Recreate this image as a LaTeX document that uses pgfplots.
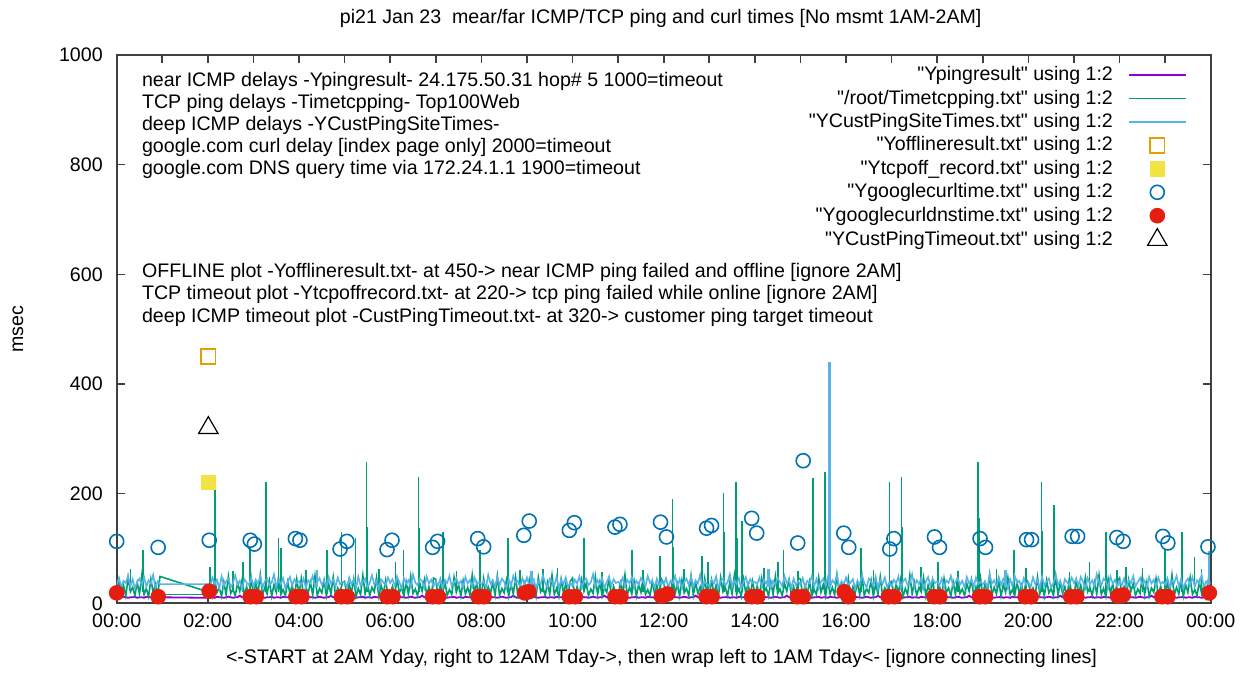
\documentclass[border=0pt]{standalone}
\usepackage{fontspec}
\setmainfont{Liberation Sans}[Ligatures=TeXOff]
\usepackage{pgfplots}
\usepackage{pgfplotstable}
\pgfplotsset{compat=1.18}
\definecolor{cpurple}{HTML}{9400D3}
\definecolor{cgreen}{HTML}{009E73}
\definecolor{clblue}{HTML}{56B4E9}
\definecolor{corange}{HTML}{E69F00}
\definecolor{cyellow}{HTML}{F0E442}
\definecolor{cblue}{HTML}{0072B2}
\definecolor{cred}{HTML}{E51E10}
\pgfplotstableread{
t g b p
0.00 15 34 11
0.05 42 46 10
0.10 18 29 11
0.15 33 41 12
0.20 13 37 11
0.25 47 50 10
0.30 21 31 11
0.35 29 44 11
0.40 14 27 12
0.45 38 39 10
0.50 17 45 11
0.55 51 33 11
0.60 16 48 10
0.65 27 30 12
0.70 12 42 11
0.75 44 36 11
0.80 19 52 10
0.85 35 28 11
0.90 15 40 13
0.95 49 35 11
2.00 21 35 10
2.05 31 30 11
2.10 14 47 11
2.15 45 35 10
2.20 20 43 12
2.25 28 27 11
2.30 13 49 11
2.35 39 32 10
2.40 16 40 11
2.45 49 45 12
2.50 18 29 11
2.55 26 37 10
2.60 14 51 11
2.65 36 34 11
2.70 22 41 14
2.75 43 26 11
2.80 15 44 10
2.85 30 38 11
2.90 13 33 12
2.95 46 47 11
3.00 14 31 11
3.05 37 43 10
3.10 19 36 11
3.15 52 49 12
3.20 15 28 11
3.25 29 40 10
3.30 17 45 11
3.35 41 33 11
3.40 13 38 12
3.45 34 53 10
3.50 20 30 11
3.55 47 42 11
3.60 16 35 10
3.65 25 46 12
3.70 14 27 11
3.75 39 39 11
3.80 18 48 10
3.85 33 32 11
3.90 12 44 13
3.95 44 37 11
4.00 16 40 10
4.05 45 33 11
4.10 13 45 11
4.15 30 28 10
4.20 18 42 12
4.25 38 37 11
4.30 15 50 11
4.35 50 31 10
4.40 14 39 11
4.45 27 46 12
4.50 19 34 11
4.55 42 41 10
4.60 13 29 11
4.65 35 48 11
4.70 17 36 14
4.75 48 43 11
4.80 15 30 10
4.85 28 47 11
4.90 20 35 12
4.95 37 39 11
5.00 40 38 11
5.05 15 30 10
5.10 35 47 11
5.15 19 35 12
5.20 44 43 11
5.25 12 27 10
5.30 27 49 11
5.35 16 32 11
5.40 51 40 12
5.45 17 45 10
5.50 38 29 11
5.55 14 37 11
5.60 29 51 10
5.65 21 34 12
5.70 47 41 11
5.75 13 26 11
5.80 33 44 10
5.85 18 38 11
5.90 42 33 13
5.95 15 47 11
6.00 17 37 10
6.05 31 44 11
6.10 14 32 11
6.15 45 48 10
6.20 20 39 12
6.25 28 27 11
6.30 13 46 11
6.35 39 35 10
6.40 16 42 11
6.45 49 30 12
6.50 18 53 11
6.55 26 38 10
6.60 14 33 11
6.65 36 45 11
6.70 22 40 14
6.75 43 28 11
6.80 15 49 10
6.85 30 36 11
6.90 13 43 12
6.95 46 31 11
7.00 44 40 11
7.05 12 33 10
7.10 33 45 11
7.15 18 28 12
7.20 39 42 11
7.25 14 37 10
7.30 25 50 11
7.35 16 31 11
7.40 47 39 12
7.45 20 46 10
7.50 34 34 11
7.55 13 41 11
7.60 41 29 10
7.65 17 48 12
7.70 29 36 11
7.75 15 43 11
7.80 52 30 10
7.85 19 47 11
7.90 37 35 13
7.95 14 39 11
8.00 16 35 10
8.05 45 40 11
8.10 13 28 11
8.15 30 52 10
8.20 18 36 12
8.25 38 42 11
8.30 15 30 11
8.35 50 48 10
8.40 14 33 11
8.45 27 45 12
8.50 19 39 11
8.55 42 27 10
8.60 13 44 11
8.65 35 31 11
8.70 17 50 14
8.75 48 37 11
8.80 15 41 10
8.85 28 29 11
8.90 20 46 12
8.95 37 34 11
9.00 15 47 11
9.05 42 33 10
9.10 18 38 11
9.15 33 44 12
9.20 13 26 11
9.25 47 41 10
9.30 21 34 11
9.35 29 51 11
9.40 14 37 12
9.45 38 29 10
9.50 17 45 11
9.55 51 40 11
9.60 16 32 10
9.65 27 49 12
9.70 12 27 11
9.75 44 43 11
9.80 19 35 10
9.85 35 47 11
9.90 15 30 13
9.95 40 38 11
10.00 46 31 10
10.05 13 43 11
10.10 30 36 11
10.15 15 49 10
10.20 43 28 12
10.25 22 40 11
10.30 36 45 11
10.35 14 33 10
10.40 26 38 11
10.45 18 53 12
10.50 49 30 11
10.55 16 42 10
10.60 39 35 11
10.65 13 46 11
10.70 28 27 14
10.75 20 39 11
10.80 45 48 10
10.85 14 32 11
10.90 31 44 12
10.95 17 37 11
11.00 14 39 11
11.05 37 35 10
11.10 19 47 11
11.15 52 30 12
11.20 15 43 11
11.25 29 36 10
11.30 17 48 11
11.35 41 29 11
11.40 13 41 12
11.45 34 34 10
11.50 20 46 11
11.55 47 39 11
11.60 16 31 10
11.65 25 50 12
11.70 14 37 11
11.75 39 42 11
11.80 18 28 10
11.85 33 45 11
11.90 12 33 13
11.95 44 40 11
12.00 37 34 10
12.05 20 46 11
12.10 28 29 11
12.15 15 41 10
12.20 48 37 12
12.25 17 50 11
12.30 35 31 11
12.35 13 44 10
12.40 42 27 11
12.45 19 39 12
12.50 27 45 11
12.55 14 33 10
12.60 50 48 11
12.65 15 30 11
12.70 38 42 14
12.75 18 36 11
12.80 30 52 10
12.85 13 28 11
12.90 45 40 12
12.95 16 35 11
13.00 15 31 11
13.05 42 43 10
13.10 18 36 11
13.15 33 49 12
13.20 13 28 11
13.25 47 40 10
13.30 21 45 11
13.35 29 33 11
13.40 14 38 12
13.45 38 53 10
13.50 17 30 11
13.55 51 42 11
13.60 16 35 10
13.65 27 46 12
13.70 12 27 11
13.75 44 39 11
13.80 19 48 10
13.85 35 32 11
13.90 15 44 13
13.95 40 37 11
14.00 17 39 10
14.05 31 35 11
14.10 14 47 11
14.15 45 30 10
14.20 20 43 12
14.25 28 36 11
14.30 13 48 11
14.35 39 29 10
14.40 16 41 11
14.45 49 34 12
14.50 18 46 11
14.55 26 39 10
14.60 14 31 11
14.65 36 50 11
14.70 22 37 14
14.75 43 42 11
14.80 15 28 10
14.85 30 45 11
14.90 13 33 12
14.95 46 40 11
15.00 44 34 11
15.05 12 46 10
15.10 33 29 11
15.15 18 41 12
15.20 39 37 11
15.25 14 50 10
15.30 25 31 11
15.35 16 44 11
15.40 47 27 12
15.45 20 39 10
15.50 34 45 11
15.55 13 33 11
15.60 41 48 10
15.65 17 30 12
15.70 29 42 11
15.75 15 36 11
15.80 52 52 10
15.85 19 28 11
15.90 37 40 13
15.95 14 35 11
16.00 16 47 10
16.05 45 33 11
16.10 13 38 11
16.15 30 44 10
16.20 18 26 12
16.25 38 41 11
16.30 15 34 11
16.35 50 51 10
16.40 14 37 11
16.45 27 29 12
16.50 19 45 11
16.55 42 40 10
16.60 13 32 11
16.65 35 49 11
16.70 17 27 14
16.75 48 43 11
16.80 15 35 10
16.85 28 47 11
16.90 20 30 12
16.95 37 38 11
17.00 40 31 11
17.05 15 43 10
17.10 35 36 11
17.15 19 49 12
17.20 44 28 11
17.25 12 40 10
17.30 27 45 11
17.35 16 33 11
17.40 51 38 12
17.45 17 53 10
17.50 38 30 11
17.55 14 42 11
17.60 29 35 10
17.65 21 46 12
17.70 47 27 11
17.75 13 39 11
17.80 33 48 10
17.85 18 32 11
17.90 42 44 13
17.95 15 37 11
18.00 17 40 10
18.05 31 33 11
18.10 14 45 11
18.15 45 28 10
18.20 20 42 12
18.25 28 37 11
18.30 13 50 11
18.35 39 31 10
18.40 16 39 11
18.45 49 46 12
18.50 18 34 11
18.55 26 41 10
18.60 14 29 11
18.65 36 48 11
18.70 22 36 14
18.75 43 43 11
18.80 15 30 10
18.85 30 47 11
18.90 13 35 12
18.95 46 39 11
19.00 14 35 11
19.05 37 40 10
19.10 19 28 11
19.15 52 52 12
19.20 15 36 11
19.25 29 42 10
19.30 17 30 11
19.35 41 48 11
19.40 13 33 12
19.45 34 45 10
19.50 20 39 11
19.55 47 27 11
19.60 16 44 10
19.65 25 31 12
19.70 14 50 11
19.75 39 37 11
19.80 18 41 10
19.85 33 29 11
19.90 12 46 13
19.95 44 34 11
20.00 37 38 10
20.05 20 30 11
20.10 28 47 11
20.15 15 35 10
20.20 48 43 12
20.25 17 27 11
20.30 35 49 11
20.35 13 32 10
20.40 42 40 11
20.45 19 45 12
20.50 27 29 11
20.55 14 37 10
20.60 50 51 11
20.65 15 34 11
20.70 38 41 14
20.75 18 26 11
20.80 30 44 10
20.85 13 38 11
20.90 45 33 12
20.95 16 47 11
21.00 15 37 11
21.05 42 44 10
21.10 18 32 11
21.15 33 48 12
21.20 13 39 11
21.25 47 27 10
21.30 21 46 11
21.35 29 35 11
21.40 14 42 12
21.45 38 30 10
21.50 17 53 11
21.55 51 38 11
21.60 16 33 10
21.65 27 45 12
21.70 12 40 11
21.75 44 28 11
21.80 19 49 10
21.85 35 36 11
21.90 15 43 13
21.95 40 31 11
22.00 46 40 10
22.05 13 33 11
22.10 30 45 11
22.15 15 28 10
22.20 43 42 12
22.25 22 37 11
22.30 36 50 11
22.35 14 31 10
22.40 26 39 11
22.45 18 46 12
22.50 49 34 11
22.55 16 41 10
22.60 39 29 11
22.65 13 48 11
22.70 28 36 14
22.75 20 43 11
22.80 45 30 10
22.85 14 47 11
22.90 31 35 12
22.95 17 39 11
23.00 14 34 11
23.05 37 46 10
23.10 19 29 11
23.15 52 41 12
23.20 15 37 11
23.25 29 50 10
23.30 17 31 11
23.35 41 44 11
23.40 13 27 12
23.45 34 39 10
23.50 20 45 11
23.55 47 33 11
23.60 16 48 10
23.65 25 30 12
23.70 14 42 11
23.75 39 36 11
23.80 18 52 10
23.85 33 28 11
23.90 12 40 13
23.95 44 35 11
24.00 20 38 11
}\mainT
\newcommand{\ff}{\fontsize{9.8}{11}\selectfont}
\begin{document}
\begin{tikzpicture}
\begin{axis}[
  at={(0pt,0pt)}, anchor=south west,
  scale only axis, width=547pt, height=274.15pt,
  xmin=0, xmax=24, ymin=0, ymax=1000,
  xtick={0,2,...,24},
  xticklabels={00:00,02:00,04:00,06:00,08:00,10:00,12:00,14:00,16:00,18:00,20:00,22:00,00:00},
  minor xtick={1,3,...,23},
  ytick={0,200,...,1000},
  tick align=inside,
  major tick length=4pt, minor tick length=4pt,
  axis line style={draw=black!75, line width=0.8pt},
  every tick/.style={black!75, line width=0.8pt},
  ticklabel style={font=\ff},
  xticklabel style={anchor=base, inner sep=0pt, yshift=-12pt},
  yticklabel style={anchor=east, inner sep=0pt, xshift=-6.8pt},
  /pgf/number format/assume math mode=true,
  /pgf/number format/1000 sep={},
  unbounded coords=jump,
  legend style={at={(1,1)}, anchor=north east, xshift=-11.8pt, yshift=-4.7pt,
    draw=none, fill=none, inner sep=0pt, font=\ff, row sep=1.2pt, column sep=7.5pt,
    nodes={inner sep=0pt, text height=8pt, text depth=2.5pt}},
  legend cell align=right,
  legend plot pos=right,
  legend image code/.code={\draw[mark repeat=2,mark phase=2,#1] plot coordinates {(0pt,0pt) (14.25pt,0pt) (28.5pt,0pt)};},
]
\addplot[cpurple, line width=0.9pt] table[x=t,y=p]{\mainT};
\addlegendentry{"Ypingresult" using 1:2}
\addplot[cgreen, line width=0.8pt] table[x=t,y=g]{\mainT};
\addlegendentry{"/root/Timetcpping.txt" using 1:2}
\addplot[cgreen, line width=0.8pt, forget plot] coordinates {
(0.30,20)(0.30,62)(0.30,nan)
(0.58,20)(0.58,97)(0.58,nan)
(2.05,20)(2.05,66)(2.05,nan)
(2.16,20)(2.16,214)(2.16,nan)
(2.55,20)(2.55,58)(2.55,nan)
(2.77,20)(2.77,75)(2.77,nan)
(2.93,20)(2.93,103)(2.93,nan)
(3.27,20)(3.27,221)(3.27,nan)
(3.285,20)(3.285,139)(3.285,nan)
(3.55,20)(3.55,120)(3.55,nan)
(3.60,20)(3.60,100)(3.60,nan)
(4.15,20)(4.15,60)(4.15,nan)
(4.62,20)(4.62,98)(4.62,nan)
(4.93,20)(4.93,130)(4.93,nan)
(5.24,20)(5.24,120)(5.24,nan)
(5.48,20)(5.48,258)(5.48,nan)
(5.495,20)(5.495,139)(5.495,nan)
(5.75,20)(5.75,62)(5.75,nan)
(6.12,20)(6.12,75)(6.12,nan)
(6.29,20)(6.29,97)(6.29,nan)
(6.62,20)(6.62,230)(6.62,nan)
(6.635,20)(6.635,137)(6.635,nan)
(7.16,20)(7.16,130)(7.16,nan)
(7.45,20)(7.45,58)(7.45,nan)
(7.97,20)(7.97,97)(7.97,nan)
(8.58,20)(8.58,120)(8.58,nan)
(8.85,20)(8.85,60)(8.85,nan)
(9.35,20)(9.35,63)(9.35,nan)
(9.67,20)(9.67,64)(9.67,nan)
(10.25,20)(10.25,120)(10.25,nan)
(10.65,20)(10.65,57)(10.65,nan)
(11.30,20)(11.30,98)(11.30,nan)
(11.55,20)(11.55,60)(11.55,nan)
(11.92,20)(11.92,86)(11.92,nan)
(12.19,20)(12.19,190)(12.19,nan)
(12.205,20)(12.205,103)(12.205,nan)
(12.45,20)(12.45,62)(12.45,nan)
(12.84,20)(12.84,86)(12.84,nan)
(12.97,20)(12.97,75)(12.97,nan)
(13.31,20)(13.31,201)(13.31,nan)
(13.325,20)(13.325,130)(13.325,nan)
(13.59,20)(13.59,221)(13.59,nan)
(13.605,20)(13.605,119)(13.605,nan)
(13.72,20)(13.72,150)(13.72,nan)
(14.20,20)(14.20,64)(14.20,nan)
(14.51,20)(14.51,75)(14.51,nan)
(14.63,20)(14.63,98)(14.63,nan)
(14.95,20)(14.95,58)(14.95,nan)
(15.27,20)(15.27,229)(15.27,nan)
(15.285,20)(15.285,122)(15.285,nan)
(15.54,20)(15.54,240)(15.54,nan)
(16.33,20)(16.33,100)(16.33,nan)
(16.60,20)(16.60,60)(16.60,nan)
(16.95,20)(16.95,221)(16.95,nan)
(17.22,20)(17.22,230)(17.22,nan)
(17.235,20)(17.235,140)(17.235,nan)
(17.65,20)(17.65,66)(17.65,nan)
(18.02,20)(18.02,75)(18.02,nan)
(18.45,20)(18.45,58)(18.45,nan)
(18.90,20)(18.90,258)(18.90,nan)
(18.915,20)(18.915,156)(18.915,nan)
(19.30,20)(19.30,62)(19.30,nan)
(19.68,20)(19.68,98)(19.68,nan)
(19.95,20)(19.95,64)(19.95,nan)
(20.29,20)(20.29,221)(20.29,nan)
(20.305,20)(20.305,131)(20.305,nan)
(20.56,20)(20.56,180)(20.56,nan)
(20.575,20)(20.575,117)(20.575,nan)
(20.90,20)(20.90,57)(20.90,nan)
(21.34,20)(21.34,75)(21.34,nan)
(21.70,20)(21.70,130)(21.70,nan)
(21.95,20)(21.95,60)(21.95,nan)
(22.14,20)(22.14,66)(22.14,nan)
(22.50,20)(22.50,65)(22.50,nan)
(23.00,20)(23.00,97)(23.00,nan)
(23.37,20)(23.37,130)(23.37,nan)
(23.64,20)(23.64,85)(23.64,nan)
(23.80,20)(23.80,62)(23.80,nan)
};
\addplot[cgreen, line width=0.8pt, forget plot] coordinates {(0.95,16)(2.05,16)};
\addplot[clblue, line width=0.8pt] table[x=t,y=b]{\mainT};
\addlegendentry{"YCustPingSiteTimes.txt" using 1:2}
\addplot[clblue, line width=1.1pt, forget plot] coordinates {
(4.40,30)(4.40,60)(4.40,nan)
(9.10,30)(9.10,58)(9.10,nan)
(14.30,30)(14.30,62)(14.30,nan)
(15.635,30)(15.635,440)(15.635,nan)
(15.645,30)(15.645,248)(15.645,nan)
(19.50,30)(19.50,60)(19.50,nan)
(23.97,30)(23.97,95)(23.97,nan)
};
\addplot[corange, only marks, mark=square, mark size=3.6pt, mark options={draw=corange, line width=0.9pt}] coordinates {(2.01,450)};
\addlegendentry{"Yofflineresult.txt" using 1:2}
\addplot[cyellow, only marks, mark=square*, mark size=3.6pt, mark options={draw=cyellow, fill=cyellow}] coordinates {(2.01,220)};
\addlegendentry{"Ytcpoff\_record.txt" using 1:2}
\addplot[cblue, only marks, mark=o, mark size=3.5pt, mark options={draw=cblue, line width=0.8pt}] coordinates {
(0.00,113)(0.91,102)(2.03,115)(2.93,115)(3.02,108)(3.92,118)(4.02,115)(4.90,99)(5.05,113)(5.93,98)(6.04,115)(6.93,102)(7.04,113)(7.92,118)(8.05,103)(8.93,124)(9.05,150)(9.93,133)(10.04,147)(10.93,139)(11.04,144)(11.93,148)(12.06,121)(12.94,137)(13.05,142)(13.93,155)(14.04,128)(14.94,110)(15.06,260)(15.95,128)(16.06,102)(16.96,99)(17.05,118)(17.94,121)(18.05,102)(18.94,118)(19.06,102)(19.96,116)(20.07,116)(20.96,122)(21.08,122)(21.94,120)(22.08,113)(22.95,122)(23.06,110)(23.94,103)
};
\addlegendentry{"Ygooglecurltime.txt" using 1:2}
\addplot[cred, only marks, mark=*, mark size=3.7pt, mark options={draw=cred, fill=cred}] coordinates {
(0.00,19)(0.91,12)(2.03,22)
(2.93,12)(3.06,12)(3.93,12)(4.06,12)(4.93,12)(5.06,12)(5.93,12)(6.06,12)
(6.93,12)(7.06,12)(7.93,12)(8.06,12)(8.95,19)(9.04,21)(9.93,12)(10.06,12)
(10.93,12)(11.06,12)(11.95,13)(12.08,17)(12.93,12)(13.06,12)(13.93,12)(14.06,12)
(14.93,12)(15.06,12)(15.96,21)(16.05,12)(16.93,12)(17.06,12)(17.93,12)(18.06,12)
(18.93,12)(19.06,12)(19.93,12)(20.06,12)(20.93,12)(21.06,12)(21.96,13)(22.08,15)
(22.93,12)(23.06,12)(23.97,19)
};
\addlegendentry{"Ygooglecurldnstime.txt" using 1:2}
\addplot[black, only marks, mark=triangle, mark size=5.6pt, mark options={draw=black, line width=0.6pt}] coordinates {(2.01,320)};
\addlegendentry{"YCustPingTimeout.txt" using 1:2}
\end{axis}
\node[anchor=base, font=\ff] at (272pt,290.1pt) {pi21 Jan 23~~mear/far ICMP/TCP ping and curl times [No msmt 1AM-2AM]};
\node[anchor=base, font=\ff] at (272.4pt,-30pt) {<-START at 2AM Yday, right to 12AM Tday->, then wrap left to 1AM Tday<- [ignore connecting lines]};
\node[anchor=center, rotate=90, font=\ff] at (-49.35pt,137pt) {msec};
\node[anchor=base west, font=\ff, inner sep=0pt] at (12.5pt,258.5pt) {near ICMP delays -Ypingresult- 24.175.50.31 hop\# 5 1000=timeout};
\node[anchor=base west, font=\ff, inner sep=0pt] at (12.5pt,247.45pt) {TCP ping delays -Timetcpping- Top100Web};
\node[anchor=base west, font=\ff, inner sep=0pt] at (12.5pt,236.4pt) {deep ICMP delays -YCustPingSiteTimes-};
\node[anchor=base west, font=\ff, inner sep=0pt] at (12.5pt,225.35pt) {google.com curl delay [index page only] 2000=timeout};
\node[anchor=base west, font=\ff, inner sep=0pt] at (12.5pt,214.3pt) {google.com DNS query time via 172.24.1.1 1900=timeout};
\node[anchor=base west, font=\ff, inner sep=0pt] at (12.5pt,162.8pt) {OFFLINE plot -Yofflineresult.txt- at 450-> near ICMP ping failed and offline [ignore 2AM]};
\node[anchor=base west, font=\ff, inner sep=0pt] at (12.5pt,151.7pt) {TCP timeout plot -Ytcpoffrecord.txt- at 220-> tcp ping failed while online [ignore 2AM]};
\node[anchor=base west, font=\ff, inner sep=0pt] at (12.5pt,140.6pt) {deep ICMP timeout plot -CustPingTimeout.txt- at 320-> customer ping target timeout};
\pgfresetboundingbox
\path[use as bounding box] (-58.35pt,-34.85pt) rectangle (561.65pt,301.65pt);
\end{tikzpicture}
\end{document}
